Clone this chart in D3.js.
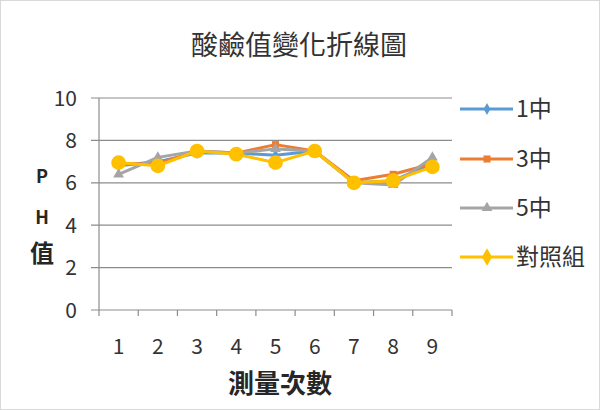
<!DOCTYPE html>
<html><head><meta charset="utf-8">
<script src="https://cdn.jsdelivr.net/npm/d3@7"></script>
<style>body{margin:0;background:#fff}svg{display:block}text{font-family:"Noto Sans CJK TC","Noto Sans",sans-serif}</style>
</head><body><svg id="c" width="600" height="410"></svg>
<script>
const categories = ["1","2","3","4","5","6","7","8","9"];
const yTicks = [0,2,4,6,8,10];
const seriesNames = ["1中","3中","5中","對照組"];
const s1 = [6.8, 7.0, 7.4, 7.4, 7.3, 7.5, 6.0, 6.1, 6.9];
const s3 = [6.9, 6.9, 7.5, 7.4, 7.8, 7.5, 6.1, 6.4, 6.9];
const s5 = [6.4, 7.2, 7.5, 7.4, 7.6, 7.5, 6.0, 5.9, 7.2];
const sCtrl = [6.95, 6.8, 7.5, 7.35, 6.95, 7.5, 6.0, 6.1, 6.75];
const colors = ["#5B9BD5","#ED7D31","#A5A5A5","#FFC000"];
const shapes = [d3.symbolDiamond, d3.symbolSquare, d3.symbolTriangle, d3.symbolCircle];
const sizes = [40, 50, 50, 170];
const data = [s1, s3, s5, sCtrl];

(function(){
const svg = d3.select("#c");
svg.append("rect").attr("x",0.5).attr("y",0.5).attr("width",599).attr("height",409).attr("fill","#fff").attr("stroke","#d9d9d9");

const pL = 99, pR = 452, pT = 98, pB = 310;
const x = d3.scaleBand().domain(categories).range([pL, pR]);
const y = d3.scaleLinear().domain([0,10]).range([pB, pT]);

svg.append("g").selectAll("line").data(yTicks).join("line")
  .attr("x1", pL-8).attr("x2", pR).attr("y1", d=>y(d)).attr("y2", d=>y(d))
  .attr("stroke","#8c8c8c").attr("stroke-width",1.2);

svg.append("line").attr("x1",pL).attr("x2",pL).attr("y1",pT).attr("y2",pB).attr("stroke","#8c8c8c").attr("stroke-width",1.2);
const bounds = categories.map(c=>x(c)).concat([pR]);
svg.append("g").selectAll("line").data(bounds).join("line")
  .attr("x1",d=>d).attr("x2",d=>d).attr("y1",pB).attr("y2",pB+6)
  .attr("stroke","#8c8c8c").attr("stroke-width",1.2);

svg.append("g").selectAll("text").data(yTicks).join("text")
  .attr("x", 77).attr("y", d=>y(d)+7.5).attr("text-anchor","end")
  .attr("font-size",21).attr("fill","#333").text(d=>d);
svg.append("g").selectAll("text").data(categories).join("text")
  .attr("x", d=>x(d)+x.bandwidth()/2).attr("y", 354).attr("text-anchor","middle")
  .attr("font-size",21).attr("fill","#333").text(d=>d);

svg.append("text").attr("x",299).attr("y",55).attr("text-anchor","middle").attr("font-size",27).attr("fill","#333").text("酸鹼值變化折線圖");
svg.append("text").attr("x",280).attr("y",393).attr("text-anchor","middle").attr("font-size",26).attr("font-weight","bold").attr("fill","#262626").text("測量次數");
[["P",183,18],["H",224,18],["值",262,24]].forEach(([t,yy,fs])=>{
  svg.append("text").attr("x",42).attr("y",yy).attr("text-anchor","middle").attr("font-size",fs).attr("font-weight","bold").attr("fill","#262626").text(t);
});

const line = d3.line().x((d,i)=>x(categories[i])+x.bandwidth()/2).y(d=>y(d));
data.forEach((s,k)=>{
  svg.append("path").datum(s).attr("d",line).attr("fill","none").attr("stroke",colors[k]).attr("stroke-width",3).attr("stroke-linejoin","round");
  svg.append("g").selectAll("path").data(s).join("path")
    .attr("transform",(d,i)=>`translate(${x(categories[i])+x.bandwidth()/2},${y(d)})`)
    .attr("d", d3.symbol().type(shapes[k]).size(sizes[k])).attr("fill",colors[k]);
});

const ly = [109, 159, 208, 257];
seriesNames.forEach((n,k)=>{
  const g = svg.append("g");
  g.append("line").attr("x1",460).attr("x2",513).attr("y1",ly[k]).attr("y2",ly[k]).attr("stroke",colors[k]).attr("stroke-width",3);
  g.append("path").attr("transform",`translate(487,${ly[k]})`).attr("d",d3.symbol().type(k===3?d3.symbolDiamond:shapes[k]).size(k===3?90:sizes[k])).attr("fill",colors[k]);
  g.append("text").attr("x",516).attr("y",ly[k]+8).attr("font-size",23).attr("fill","#333").text(n);
});
})();
</script></body></html>
